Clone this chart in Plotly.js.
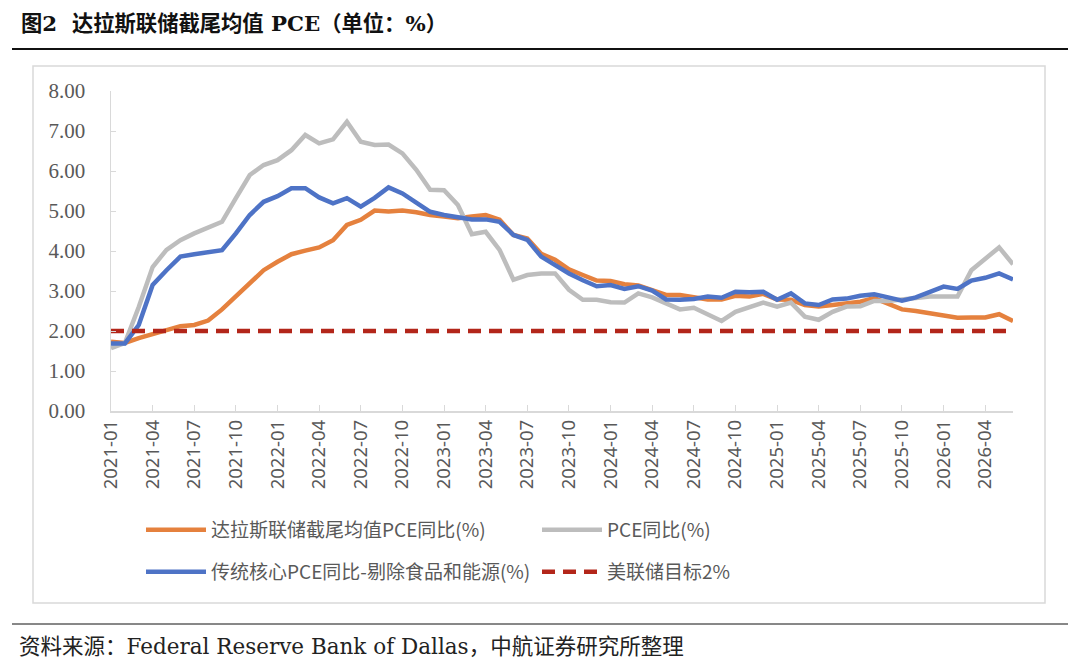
<!DOCTYPE html>
<html>
<head>
<meta charset="utf-8">
<script src="https://cdn.plot.ly/plotly-3.0.1.min.js"></script>
<style>
  html, body { margin: 0; padding: 0; background: #fff; }
  #chart { width: 1080px; height: 665px; }
</style>
</head>
<body>
<div id="chart"></div>
<script>
// months 2021-01 .. 2026-06
var months = [
  '2021-01','2021-02','2021-03','2021-04','2021-05','2021-06','2021-07','2021-08','2021-09','2021-10','2021-11','2021-12',
  '2022-01','2022-02','2022-03','2022-04','2022-05','2022-06','2022-07','2022-08','2022-09','2022-10','2022-11','2022-12',
  '2023-01','2023-02','2023-03','2023-04','2023-05','2023-06','2023-07','2023-08','2023-09','2023-10','2023-11','2023-12',
  '2024-01','2024-02','2024-03','2024-04','2024-05','2024-06','2024-07','2024-08','2024-09','2024-10','2024-11','2024-12',
  '2025-01','2025-02','2025-03','2025-04','2025-05','2025-06','2025-07','2025-08','2025-09','2025-10','2025-11','2025-12',
  '2026-01','2026-02','2026-03','2026-04','2026-05','2026-06'
];

// Dallas Fed trimmed mean PCE, y/y %
var trimmedPce = [
  1.73, 1.70, 1.82, 1.92, 2.03, 2.12, 2.15, 2.26, 2.54, 2.86, 3.19, 3.52,
  3.73, 3.92, 4.01, 4.09, 4.27, 4.65, 4.78, 5.01, 4.99, 5.01, 4.97, 4.90,
  4.86, 4.82, 4.86, 4.90, 4.78, 4.40, 4.31, 3.93, 3.78, 3.54, 3.40, 3.26,
  3.25, 3.17, 3.14, 3.03, 2.90, 2.90, 2.84, 2.79, 2.79, 2.88, 2.86, 2.93,
  2.79, 2.78, 2.65, 2.61, 2.65, 2.69, 2.73, 2.82, 2.69, 2.54, 2.50, 2.44,
  2.40, 2.33, 2.34, 2.34, 2.42, 2.25
];

// headline PCE, y/y %
var headlinePce = [
  1.57, 1.70, 2.60, 3.60, 4.03, 4.27, 4.44, 4.57, 4.73, 5.32, 5.90, 6.15,
  6.27, 6.52, 6.90, 6.69, 6.79, 7.23, 6.73, 6.65, 6.66, 6.44, 6.03, 5.53,
  5.52, 5.15, 4.42, 4.48, 4.03, 3.28, 3.40, 3.44, 3.44, 3.03, 2.78, 2.78,
  2.72, 2.71, 2.94, 2.84, 2.68, 2.54, 2.58, 2.40, 2.25, 2.48, 2.59, 2.71,
  2.61, 2.71, 2.36, 2.28, 2.48, 2.61, 2.62, 2.75, 2.75, 2.78, 2.82, 2.86,
  2.86, 2.86, 3.52, 3.82, 4.09, 3.67
];

// core PCE ex food & energy, y/y %
var corePce = [
  1.69, 1.69, 2.15, 3.15, 3.52, 3.86, 3.92, 3.96, 4.02, 4.44, 4.90, 5.23,
  5.37, 5.57, 5.57, 5.34, 5.19, 5.32, 5.11, 5.33, 5.59, 5.44, 5.21, 4.98,
  4.90, 4.84, 4.79, 4.79, 4.73, 4.40, 4.28, 3.86, 3.65, 3.44, 3.27, 3.12,
  3.15, 3.05, 3.12, 3.01, 2.79, 2.78, 2.80, 2.86, 2.83, 2.98, 2.97, 2.98,
  2.78, 2.94, 2.69, 2.65, 2.79, 2.81, 2.88, 2.92, 2.84, 2.76, 2.84, 2.98,
  3.11, 3.05, 3.26, 3.33, 3.44, 3.29
];

// Fed target
var fedTarget = [
  2, 2, 2, 2, 2, 2, 2, 2, 2, 2, 2, 2,
  2, 2, 2, 2, 2, 2, 2, 2, 2, 2, 2, 2,
  2, 2, 2, 2, 2, 2, 2, 2, 2, 2, 2, 2,
  2, 2, 2, 2, 2, 2, 2, 2, 2, 2, 2, 2,
  2, 2, 2, 2, 2, 2, 2, 2, 2, 2, 2, 2,
  2, 2, 2, 2, 2, 2
];

var tickMonths = [
  '2021-01','2021-04','2021-07','2021-10','2022-01','2022-04','2022-07','2022-10',
  '2023-01','2023-04','2023-07','2023-10','2024-01','2024-04','2024-07','2024-10',
  '2025-01','2025-04','2025-07','2025-10','2026-01','2026-04'
];
var yTicks = [0, 1, 2, 3, 4, 5, 6, 7, 8];

var seriesNames = ['达拉斯联储截尾均值PCE同比(%)', 'PCE同比(%)', '传统核心PCE同比-剔除食品和能源(%)', '美联储目标2%'];

var sansCjk = '"Noto Sans CJK SC", "Noto Sans", sans-serif';
var serifFont = '"DejaVu Serif", "Noto Sans CJK SC", serif';

var traces = [
  { x: months, y: trimmedPce, name: seriesNames[0], type: 'scatter', mode: 'lines',
    line: { color: '#E5813E', width: 4.5 }, legend: 'legend' },
  { x: months, y: headlinePce, name: seriesNames[1], type: 'scatter', mode: 'lines',
    line: { color: '#BDBDBD', width: 4.5 }, legend: 'legend' },
  { x: months, y: corePce, name: seriesNames[2], type: 'scatter', mode: 'lines',
    line: { color: '#4E73C6', width: 4.5 }, legend: 'legend2' },
  { x: months, y: fedTarget, name: seriesNames[3], type: 'scatter', mode: 'lines',
    line: { color: '#B3261A', width: 4.5, dash: '13px,8px' }, legend: 'legend2' }
];

// helpers to place page furniture in pixels (plot area: x 111..1013, y 91..411)
function px(x) { return (x - 111) / 902; }
function py(y) { return (411 - y) / 320; }

// each legend holds one row of two entries
var legendCommon = {
  orientation: 'h',
  xanchor: 'left',
  yanchor: 'middle',
  entrywidth: 321,
  entrywidthmode: 'pixels',
  itemwidth: 60,
  bgcolor: 'rgba(0,0,0,0)',
  font: { family: sansCjk, size: 19, color: '#595959' }
};

var layout = {
  width: 1080,
  height: 665,
  margin: { l: 111, r: 67, t: 91, b: 254 },
  paper_bgcolor: '#ffffff',
  plot_bgcolor: '#ffffff',
  showlegend: true,
  legend: Object.assign({ x: px(141), y: py(530) }, legendCommon),
  legend2: Object.assign({ x: px(141), y: py(572) }, legendCommon),
  xaxis: {
    type: 'category',
    range: [0, months.length - 1],
    tickmode: 'array',
    tickvals: tickMonths,
    ticktext: tickMonths,
    tickangle: -90,
    ticks: 'inside',
    ticklen: 6,
    tickcolor: '#d9d9d9',
    showline: true,
    linecolor: '#d9d9d9',
    linewidth: 1.5,
    showgrid: false,
    zeroline: false,
    tickfont: { family: '"Noto Sans", sans-serif', size: 18.5, color: '#595959' }
  },
  yaxis: {
    range: [0, 8],
    tickmode: 'array',
    tickvals: yTicks,
    tickformat: '.2f',
    ticks: 'inside',
    ticklen: 5,
    tickcolor: '#d9d9d9',
    showline: true,
    linecolor: '#d9d9d9',
    linewidth: 1.5,
    showgrid: false,
    zeroline: false,
    ticklabelstandoff: 20,
    tickfont: { family: '"Liberation Serif", serif', size: 21, color: '#595959' }
  },
  shapes: [
    // rule under the title
    { type: 'line', xref: 'paper', yref: 'paper', x0: px(12), x1: px(1068), y0: py(49), y1: py(49),
      line: { color: '#111111', width: 2 } },
    // chart frame
    { type: 'rect', xref: 'paper', yref: 'paper', x0: px(33), x1: px(1045), y0: py(66), y1: py(603),
      line: { color: '#d9d9d9', width: 1.5 }, layer: 'below' },
    // rule above the source
    { type: 'line', xref: 'paper', yref: 'paper', x0: px(12), x1: px(1068), y0: py(624), y1: py(624),
      line: { color: '#111111', width: 1 } }
  ],
  annotations: [
    { xref: 'paper', yref: 'paper', x: px(19), y: py(24), xanchor: 'left', yanchor: 'middle',
      showarrow: false, align: 'left',
      text: '<b>图2  达拉斯联储截尾均值 PCE（单位：%）</b>',
      font: { family: serifFont, size: 21.3, color: '#111111' } },
    { xref: 'paper', yref: 'paper', x: px(17), y: py(646), xanchor: 'left', yanchor: 'middle',
      showarrow: false, align: 'left',
      text: '资料来源：Federal Reserve Bank of Dallas，中航证券研究所整理',
      font: { family: serifFont, size: 21.5, color: '#222222' } }
  ]
};

Plotly.newPlot('chart', traces, layout, { displayModeBar: false, staticPlot: true });
</script>
</body>
</html>
